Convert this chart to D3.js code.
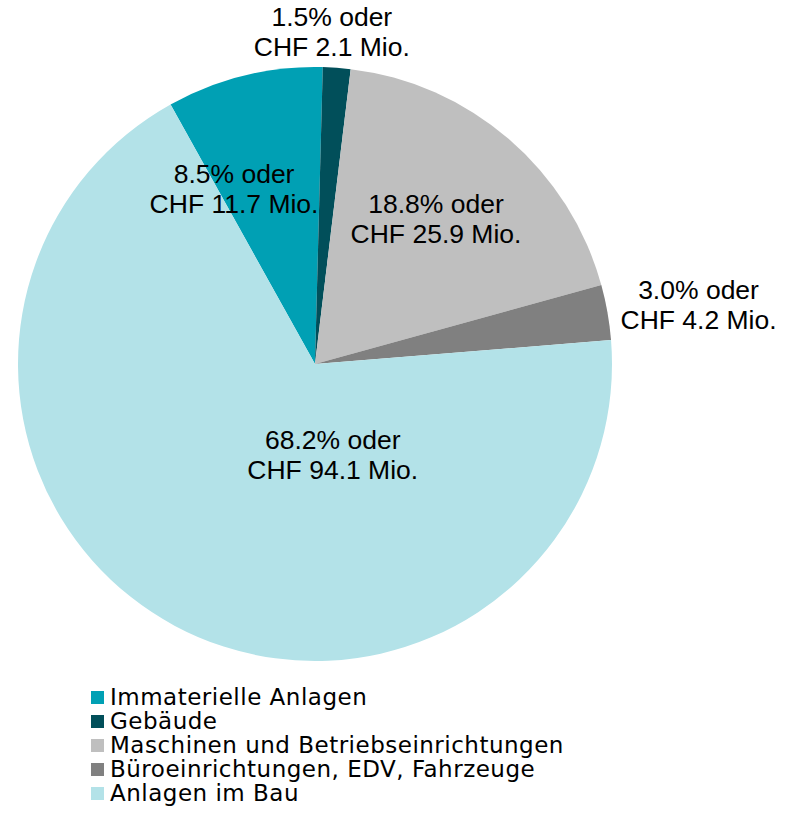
<!DOCTYPE html>
<html>
<head>
<meta charset="utf-8">
<script src="https://cdn.jsdelivr.net/npm/d3@7"></script>
<style>
  html, body { margin: 0; padding: 0; background: #fff; }
  svg { display: block; }
</style>
</head>
<body>
<div id="chart"></div>
<script>
// categories in legend order
const categories = [
  "Immaterielle Anlagen",
  "Gebäude",
  "Maschinen und Betriebseinrichtungen",
  "Büroeinrichtungen, EDV, Fahrzeuge",
  "Anlagen im Bau"
];
// share in percent
const shares = [8.5, 1.5, 18.8, 3.0, 68.2];
// amount in CHF Mio.
const amounts = [11.7, 2.1, 25.9, 4.2, 94.1];
const colors = ["#00a0b4", "#014f5a", "#bfbfbf", "#808080", "#b3e2e8"];

const width = 788, height = 816;
const cx = 315, cy = 364, radius = 297;

// label placement (angle in degrees clockwise from top, distance from centre)
// Excel nudged some labels away from the centroid, so these are set by hand
const labelAngle = [-24.8, 2.9, 39.8, 81.3, 169];
const labelDist = [193, 332, 189, 388, 93];

const svg = d3.select("#chart").append("svg")
  .attr("width", width)
  .attr("height", height);

const pie = d3.pie()
  .sort(null)
  .value(d => d)
  .startAngle(-29.1 * Math.PI / 180)
  .endAngle((360 - 29.1) * Math.PI / 180);

const arc = d3.arc().innerRadius(0).outerRadius(radius);

const g = svg.append("g").attr("transform", `translate(${cx},${cy})`);

g.selectAll("path")
  .data(pie(shares))
  .join("path")
  .attr("d", arc)
  .attr("fill", (d, i) => colors[i]);

// data labels
const labels = g.selectAll("text.lbl")
  .data(shares)
  .join("text")
  .attr("class", "lbl")
  .attr("text-anchor", "middle")
  .attr("font-family", "'Liberation Sans', Arial, sans-serif")
  .attr("font-size", 26.5)
  .attr("fill", "#000")
  .attr("transform", (d, i) => {
    const a = labelAngle[i] * Math.PI / 180;
    return `translate(${labelDist[i] * Math.sin(a)},${-labelDist[i] * Math.cos(a)})`;
  });

labels.append("tspan")
  .attr("x", 0)
  .attr("y", -6)
  .text(d => d.toFixed(1) + "% oder");
labels.append("tspan")
  .attr("x", 0)
  .attr("y", 24)
  .text((d, i) => "CHF " + amounts[i].toFixed(1) + " Mio.");

// legend
const legend = svg.append("g").attr("transform", "translate(91,697)");
const rows = legend.selectAll("g")
  .data(categories)
  .join("g")
  .attr("transform", (d, i) => `translate(0,${i * 24})`);

rows.append("rect")
  .attr("x", 0)
  .attr("y", -6)
  .attr("width", 13)
  .attr("height", 13)
  .attr("fill", (d, i) => colors[i]);

rows.append("text")
  .attr("x", 19)
  .attr("y", 8)
  .attr("font-family", "'DejaVu Sans', Verdana, sans-serif")
  .attr("font-size", 23)
  .attr("letter-spacing", "0.5px")
  .attr("fill", "#000")
  .text(d => d);
</script>
</body>
</html>
